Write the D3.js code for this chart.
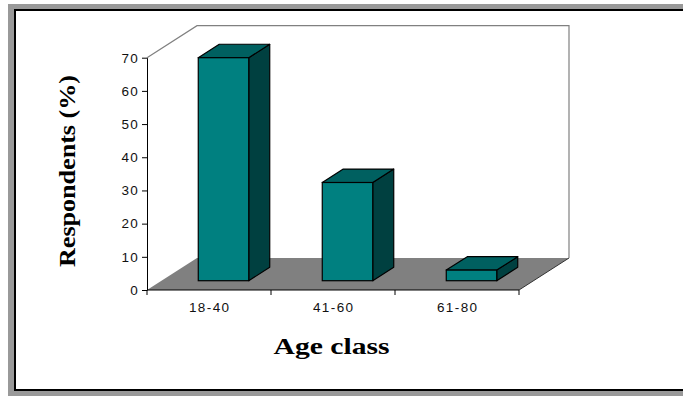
<!DOCTYPE html>
<html>
<head>
<meta charset="utf-8">
<script src="https://cdn.jsdelivr.net/npm/d3@7"></script>
<style>
  html, body { margin: 0; padding: 0; background: #ffffff; overflow: hidden; }
  svg { display: block; }
</style>
</head>
<body>
<svg id="chart" width="683" height="397"></svg>
<script>
// Share of respondents by age class
const categories = ["18-40", "41-60", "61-80"];
const values = [67.2, 29.6, 3.2];
const yTicks = [0, 10, 20, 30, 40, 50, 60, 70];

const W = 683;
const svg = d3.select("#chart");

// Frame: grey outer band and a white panel edged in black on left, top and bottom
svg.append("rect").attr("x", 8).attr("y", 4).attr("width", W - 8).attr("height", 392).attr("fill", "#999999");
svg.append("rect").attr("x", 15).attr("y", 10).attr("width", W - 15).attr("height", 380).attr("fill", "#ffffff");
svg.append("path")
  .attr("d", `M${W},10 L15,10 L15,390 L${W},390`)
  .attr("fill", "none").attr("stroke", "#000000").attr("stroke-width", 2);

// Plot geometry: front plane scales plus an oblique depth vector
const x = d3.scaleBand().domain(categories).range([147, 519]).paddingInner(0).paddingOuter(0);
const y = d3.scaleLinear().domain([0, 70]).range([290, 57.7]);
const depth = { dx: 50, dy: -32 };
const barFront = 0.29, barBack = 0.71;
const barW = x.bandwidth() * 0.407;

const x0 = x.range()[0], x1 = x.range()[1];
const yTop = y(d3.max(yTicks)), yBase = y(0);

// Floor
svg.append("path")
  .attr("d", `M${x0},${yBase} L${x1},${yBase} L${x1 + depth.dx},${yBase + depth.dy} L${x0 + depth.dx},${yBase + depth.dy} Z`)
  .attr("fill", "#808080");
svg.append("line")
  .attr("x1", x1).attr("y1", yBase).attr("x2", x1 + depth.dx).attr("y2", yBase + depth.dy)
  .attr("stroke", "#333333").attr("stroke-width", 1);

// Back and side walls (outline only)
svg.append("path")
  .attr("d", `M${x0},${yTop} L${x0 + depth.dx},${yTop + depth.dy} L${x1 + depth.dx},${yTop + depth.dy} L${x1 + depth.dx},${yBase + depth.dy}`)
  .attr("fill", "none").attr("stroke", "#808080").attr("stroke-width", 1.2);

// 3D bars
const bars = svg.append("g").selectAll("g").data(categories.map((c, i) => ({ c, v: values[i] }))).join("g");
bars.each(function (d) {
  const g = d3.select(this);
  const fx = x(d.c) + (x.bandwidth() - barW) / 2 + barFront * depth.dx;
  const fyTop = y(d.v) + barFront * depth.dy;
  const fyBot = y(0) + barFront * depth.dy;
  const ddx = (barBack - barFront) * depth.dx;
  const ddy = (barBack - barFront) * depth.dy;
  // side face
  g.append("path")
    .attr("d", `M${fx + barW},${fyTop} L${fx + barW + ddx},${fyTop + ddy} L${fx + barW + ddx},${fyBot + ddy} L${fx + barW},${fyBot} Z`)
    .attr("fill", "#004040").attr("stroke", "#000000").attr("stroke-width", 1.2).attr("stroke-linejoin", "round");
  // top face
  g.append("path")
    .attr("d", `M${fx},${fyTop} L${fx + ddx},${fyTop + ddy} L${fx + barW + ddx},${fyTop + ddy} L${fx + barW},${fyTop} Z`)
    .attr("fill", "#006060").attr("stroke", "#000000").attr("stroke-width", 1.2).attr("stroke-linejoin", "round");
  // front face
  g.append("rect")
    .attr("x", fx).attr("y", fyTop).attr("width", barW).attr("height", fyBot - fyTop)
    .attr("fill", "#008080").attr("stroke", "#000000").attr("stroke-width", 1.2);
});

// Y axis
const yAxis = svg.append("g").attr("transform", `translate(${x0},0)`)
  .call(d3.axisLeft(y).tickValues(yTicks).tickSize(5).tickSizeOuter(0).tickPadding(3));
yAxis.select(".domain").attr("stroke", "#000000");
yAxis.selectAll(".tick line").attr("stroke", "#000000");
yAxis.selectAll("text")
  .attr("font-family", "'Liberation Sans', Arial, sans-serif")
  .attr("font-size", 13.5).attr("letter-spacing", "1.3px").attr("fill", "#111111");

// X axis line, boundary ticks and category labels
svg.append("line").attr("x1", x0).attr("y1", yBase).attr("x2", x1).attr("y2", yBase)
  .attr("stroke", "#000000").attr("stroke-width", 1.2);
const bounds = categories.map(c => x(c)).concat([x1]);
svg.append("g").selectAll("line").data(bounds).join("line")
  .attr("x1", d => d).attr("x2", d => d).attr("y1", yBase).attr("y2", yBase + 5)
  .attr("stroke", "#000000").attr("stroke-width", 1);
svg.append("g").selectAll("text").data(categories).join("text")
  .attr("x", d => x(d) + x.bandwidth() / 2 + 0.7).attr("y", 311.7)
  .attr("text-anchor", "middle")
  .attr("font-family", "'Liberation Sans', Arial, sans-serif")
  .attr("font-size", 13.5).attr("letter-spacing", "1.4px").attr("fill", "#111111")
  .text(d => d);

// Axis titles
svg.append("text")
  .attr("x", 273.5).attr("y", 354)
  .attr("font-family", "'Liberation Serif', 'Times New Roman', serif")
  .attr("font-weight", "bold").attr("font-size", 23)
  .attr("textLength", 116).attr("lengthAdjust", "spacingAndGlyphs")
  .attr("fill", "#000000")
  .text("Age class");

svg.append("text")
  .attr("transform", "translate(75,267) rotate(-90)")
  .attr("x", 0).attr("y", 0)
  .attr("font-family", "'Liberation Serif', 'Times New Roman', serif")
  .attr("font-weight", "bold").attr("font-size", 23)
  .attr("textLength", 192).attr("lengthAdjust", "spacingAndGlyphs")
  .attr("fill", "#000000")
  .text("Respondents (%)");
</script>
</body>
</html>
